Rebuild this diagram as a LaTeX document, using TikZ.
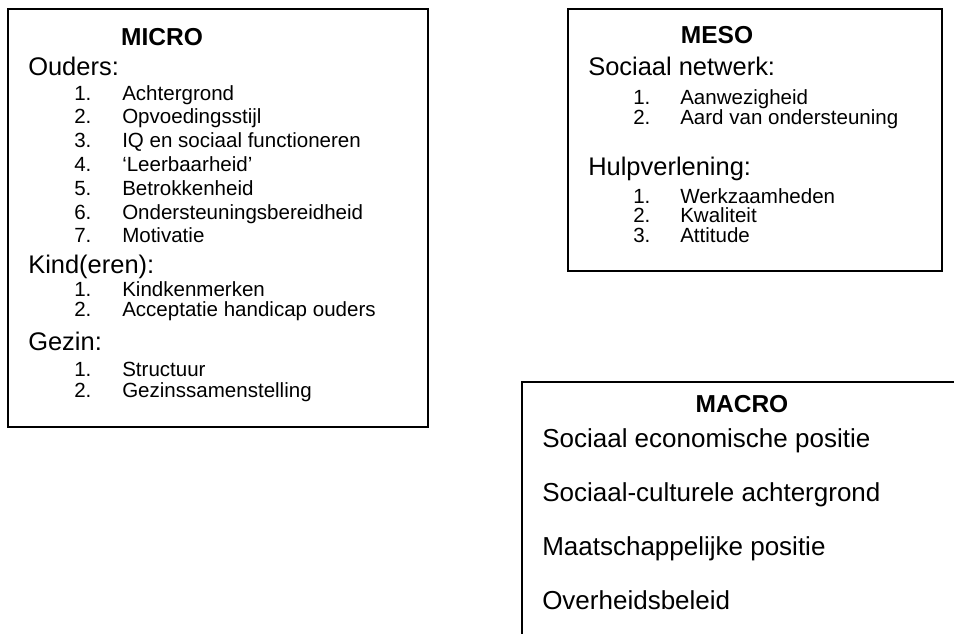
\documentclass[tikz,border=0pt]{standalone}
\usepackage{fontspec}
\setmainfont{Liberation Sans}
\usepackage{tikz}
\usetikzlibrary{positioning}

\tikzset{
    box/.style={draw=black,line width=1.3pt},
    titel/.style={font=\fontsize{18.4}{22}\selectfont\bfseries,anchor=base,inner sep=0pt},
    kop/.style={font=\fontsize{19.1}{23}\selectfont,anchor=base west,inner sep=0pt},
    nr/.style={font=\fontsize{15.4}{18}\selectfont,anchor=base west,inner sep=0pt},
    punt/.style={font=\fontsize{15.4}{18}\selectfont,anchor=base west,inner sep=0pt}
}

\begin{document}
\begin{tikzpicture}[x=0.75pt,y=-0.75pt]
    \useasboundingbox (0,0) rectangle (954,633);
    \clip (0,0) rectangle (954,633);

    % MICRO
    \draw[box] (8,9) rectangle (428,427);
    \node[titel] (micro) at (162,45) {MICRO};
    \node[kop] (ouders) at (28,75) {Ouders:};
    \foreach \t [count=\i] in {Achtergrond,Opvoedingsstijl,IQ en sociaal functioneren,‘Leerbaarheid’,Betrokkenheid,Ondersteuningsbereidheid,Motivatie}{
        \node[nr] (o\i) at (74,{100+(\i-1)*23.8}) {\i.};
        \node[punt] (ot\i) at (122,{100+(\i-1)*23.8}) {\t};
    }
    \node[kop] (kind) at (28,273) {Kind(eren):};
    \foreach \t [count=\i] in {Kindkenmerken,Acceptatie handicap ouders}{
        \node[nr] (k\i) at (74,{296+(\i-1)*20}) {\i.};
        \node[punt] (kt\i) at (122,{296+(\i-1)*20}) {\t};
    }
    \node[kop] (gezin) at (28,350) {Gezin:};
    \foreach \t [count=\i] in {Structuur,Gezinssamenstelling}{
        \node[nr] (g\i) at (74,{376+(\i-1)*21}) {\i.};
        \node[punt] (gt\i) at (122,{376+(\i-1)*21}) {\t};
    }

    % MESO
    \draw[box] (568,9) rectangle (942,271);
    \node[titel] (meso) at (717,43) {MESO};
    \node[kop] (netwerk) at (588,75) {Sociaal netwerk:};
    \foreach \t [count=\i] in {Aanwezigheid,Aard van ondersteuning}{
        \node[nr] (n\i) at (633,{104+(\i-1)*20}) {\i.};
        \node[punt] (nt\i) at (680,{104+(\i-1)*20}) {\t};
    }
    \node[kop] (hulp) at (588,175) {Hulpverlening:};
    \foreach \t [count=\i] in {Werkzaamheden,Kwaliteit,Attitude}{
        \node[nr] (h\i) at (633,{203+(\i-1)*19.5}) {\i.};
        \node[punt] (ht\i) at (680,{203+(\i-1)*19.5}) {\t};
    }

    % MACRO (rechts en onder afgesneden)
    \draw[box] (522,382) rectangle (980,660);
    \node[titel] (macro) at (742,412) {MACRO};
    \foreach \t [count=\i] in {Sociaal economische positie,Sociaal-culturele achtergrond,Maatschappelijke positie,Overheidsbeleid}{
        \node[kop,font=\fontsize{19.5}{23}\selectfont] (m\i) at (542,{447+(\i-1)*54.3}) {\t};
    }
\end{tikzpicture}
\end{document}
